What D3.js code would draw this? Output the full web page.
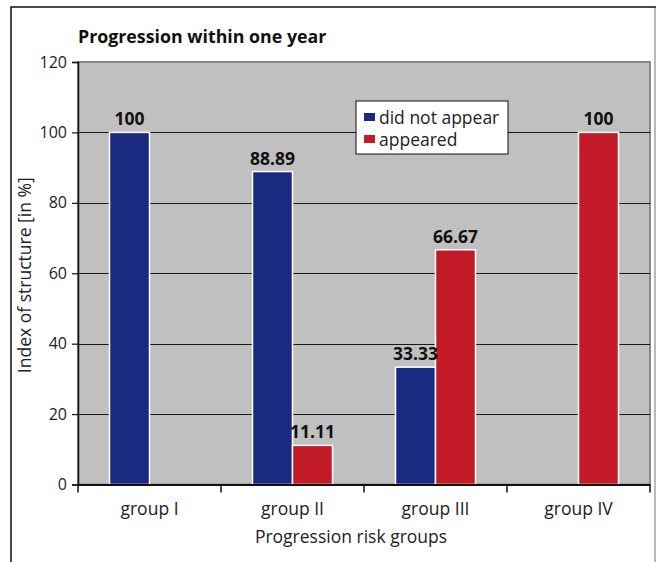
<!DOCTYPE html>
<html>
<head>
<meta charset="utf-8">
<script src="https://cdn.jsdelivr.net/npm/d3@7/dist/d3.min.js"></script>
<style>
  html, body { margin: 0; padding: 0; background: #fff; }
  svg { display: block; font-family: "Open Sans", "Noto Sans", sans-serif; }
</style>
</head>
<body>
<script>
// Risk groups along the x axis
const groups = ["group I", "group II", "group III", "group IV"];
// Share of cases per group [in %]
const didNotAppear = [100, 88.89, 33.33, 0];
const appeared = [0, 11.11, 66.67, 100];
const seriesNames = ["did not appear", "appeared"];
const seriesColors = ["#192a80", "#c31a28"];
const yTicks = [0, 20, 40, 60, 80, 100, 120];

const W = 656, H = 562;

const svg = d3.select("body").append("svg")
  .attr("width", W).attr("height", H);

// outer frame
svg.append("rect")
  .attr("x", 11).attr("y", 7)
  .attr("width", 644).attr("height", 570)
  .attr("fill", "#fff").attr("stroke", "#111").attr("stroke-width", 1.5);
svg.append("line")
  .attr("x1", 655).attr("x2", 655).attr("y1", 8).attr("y2", H)
  .attr("stroke", "#ddd").attr("stroke-width", 1.5);

const x0 = d3.scaleBand().domain(groups).range([78, 650]).paddingInner(0).paddingOuter(0);
const x1 = d3.scaleBand().domain(seriesNames).range([-40, 40]);
const y = d3.scaleLinear().domain([0, 120]).range([484.5, 62]);

// plot area
svg.append("rect")
  .attr("x", x0.range()[0]).attr("y", y(120))
  .attr("width", x0.range()[1] - x0.range()[0]).attr("height", y(0) - y(120))
  .attr("fill", "#c0c0c0").attr("stroke", "#888").attr("stroke-width", 2);

// horizontal gridlines
svg.append("g").selectAll("line")
  .data(yTicks.filter(d => d > 0 && d < 120))
  .join("line")
  .attr("x1", x0.range()[0]).attr("x2", x0.range()[1])
  .attr("y1", d => Math.round(y(d)) + 0.5).attr("y2", d => Math.round(y(d)) + 0.5)
  .attr("stroke", "#1a1a1a").attr("stroke-width", 1.2);

// bars
const rows = groups.map((g, i) => ({ group: g, values: [didNotAppear[i], appeared[i]] }));
const gGroups = svg.append("g").selectAll("g")
  .data(rows).join("g")
  .attr("transform", d => `translate(${x0(d.group) + x0.bandwidth() / 2},0)`);

gGroups.selectAll("rect")
  .data(d => d.values.map((v, k) => ({ v, k })).filter(e => e.v > 0))
  .join("rect")
  .attr("x", e => x1(seriesNames[e.k]))
  .attr("width", x1.bandwidth())
  .attr("y", e => y(e.v))
  .attr("height", e => y(0) - y(e.v))
  .attr("fill", e => seriesColors[e.k])
  .attr("stroke", "#fff").attr("stroke-width", 1.5);

gGroups.selectAll("text")
  .data(d => d.values.map((v, k) => ({ v, k })).filter(e => e.v > 0))
  .join("text")
  .attr("x", e => x1(seriesNames[e.k]) + x1.bandwidth() / 2)
  .attr("y", e => y(e.v) - 7)
  .attr("text-anchor", "middle")
  .attr("font-size", 17.5).attr("font-weight", "bold").attr("fill", "#111")
  .text(e => String(e.v));

// y axis
const yAxis = svg.append("g")
  .attr("transform", `translate(${x0.range()[0]},0)`)
  .call(d3.axisLeft(y).tickValues(yTicks).tickSize(6).tickPadding(5));
yAxis.select(".domain").attr("stroke", "#111").attr("stroke-width", 1.5);
yAxis.selectAll(".tick line").attr("stroke", "#111").attr("stroke-width", 1.2);
yAxis.selectAll("text").attr("font-size", 16).attr("fill", "#222")
  .attr("font-family", "Open Sans, sans-serif");

// x axis
const xAxis = svg.append("g")
  .attr("transform", `translate(0,${y(0)})`)
  .call(d3.axisBottom(x0).tickSize(0).tickPadding(18));
xAxis.select(".domain").attr("stroke", "#111").attr("stroke-width", 2);
xAxis.selectAll("text").attr("font-size", 17.5).attr("fill", "#222")
  .attr("font-family", "Open Sans, sans-serif");
svg.append("g").selectAll("line")
  .data(d3.range(groups.length + 1))
  .join("line")
  .attr("x1", i => x0.range()[0] + i * x0.step())
  .attr("x2", i => x0.range()[0] + i * x0.step())
  .attr("y1", y(0)).attr("y2", y(0) + 8)
  .attr("stroke", "#111").attr("stroke-width", 1.5);

// axis titles
svg.append("text")
  .attr("x", (x0.range()[0] + x0.range()[1]) / 2 - 13).attr("y", 543)
  .attr("text-anchor", "middle").attr("font-size", 17.5).attr("fill", "#222")
  .text("Progression risk groups");
svg.append("text")
  .attr("transform", `translate(31,${y(60) + 2}) rotate(-90)`)
  .attr("text-anchor", "middle").attr("font-size", 17.5).attr("fill", "#222")
  .text("Index of structure [in %]");

// chart title
svg.append("text")
  .attr("x", 78).attr("y", 43)
  .attr("font-size", 17.8).attr("font-weight", "bold").attr("fill", "#111")
  .text("Progression within one year");

// legend
const legend = svg.append("g").attr("transform", "translate(356,101)");
legend.append("rect")
  .attr("width", 152).attr("height", 53)
  .attr("fill", "#fff").attr("stroke", "#111").attr("stroke-width", 1);
seriesNames.forEach((name, k) => {
  legend.append("rect")
    .attr("x", 8).attr("y", 12 + k * 22)
    .attr("width", 11).attr("height", 8)
    .attr("fill", seriesColors[k]);
  legend.append("text")
    .attr("x", 23).attr("y", 23 + k * 22)
    .attr("font-size", 17.5).attr("fill", "#222")
    .text(name);
});
</script>
</body>
</html>
